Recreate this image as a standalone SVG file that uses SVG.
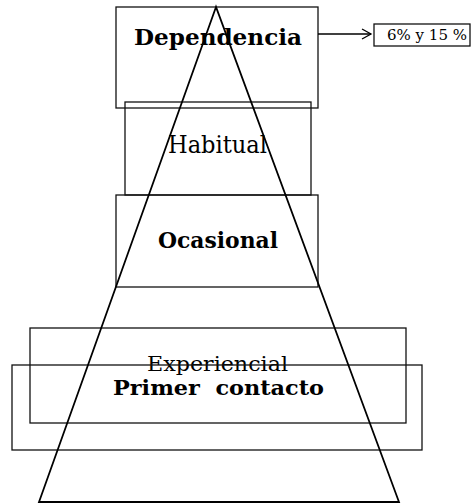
<svg xmlns="http://www.w3.org/2000/svg" width="473" height="504" viewBox="0 0 473 504">
<defs>
<style>
.box{fill:none;stroke:#111;stroke-width:1.3}
.tri{fill:none;stroke:#000;stroke-width:1.8}
.b{font-family:"DejaVu Serif","Liberation Serif",serif;font-weight:bold;fill:#000}
.r{font-family:"DejaVu Serif","Liberation Serif",serif;fill:#000}
.conn{fill:none;stroke:#000;stroke-width:1.3}
</style>
<marker id="arr" markerWidth="12" markerHeight="12" refX="10" refY="6" orient="auto" markerUnits="userSpaceOnUse">
<path d="M1,1 L10,6 L1,11" fill="none" stroke="#000" stroke-width="1.3"/>
</marker>
</defs>
<rect width="473" height="504" fill="#fff"/>
<g id="dependencia">
<rect class="box" x="116" y="7" width="202" height="101"/>
<text class="b" x="218" y="45" font-size="23" text-anchor="middle" textLength="168" lengthAdjust="spacingAndGlyphs">Dependencia</text>
</g>
<g id="habitual">
<rect class="box" x="125" y="102" width="186" height="93"/>
<text class="r" x="217.5" y="153" font-size="24" text-anchor="middle" textLength="99" lengthAdjust="spacingAndGlyphs">Habitual</text>
</g>
<g id="ocasional">
<rect class="box" x="116" y="195" width="202" height="92"/>
<text class="b" x="218" y="248" font-size="21.5" text-anchor="middle" textLength="120" lengthAdjust="spacingAndGlyphs">Ocasional</text>
</g>
<g id="experiencial">
<rect class="box" x="30" y="328" width="376" height="95"/>
<text class="r" x="217.5" y="371" font-size="21" text-anchor="middle" textLength="141" lengthAdjust="spacingAndGlyphs">Experiencial</text>
</g>
<g id="primer-contacto">
<rect class="box" x="12" y="365" width="410" height="85"/>
<text class="b" x="218.5" y="395" font-size="21" text-anchor="middle" textLength="211" lengthAdjust="spacingAndGlyphs" xml:space="preserve" style="white-space:pre">Primer  contacto</text>
</g>
<g id="porcentaje">
<rect class="box" x="374" y="24" width="96" height="22"/>
<text class="r" x="427" y="40" font-size="14" text-anchor="middle" textLength="80" lengthAdjust="spacingAndGlyphs">6% y 15 %</text>
</g>
<g id="piramide">
<polygon class="tri" points="216,7 39,502 399,502"/>
</g>
<g id="connectors">
<line class="conn" x1="318" y1="34" x2="371" y2="34" marker-end="url(#arr)"/>
</g>
</svg>
